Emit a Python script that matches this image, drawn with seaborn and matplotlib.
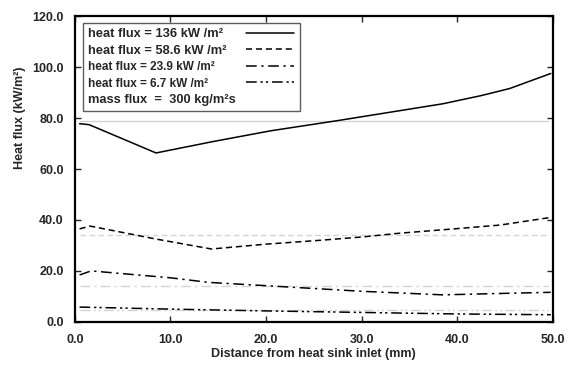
import matplotlib
matplotlib.use("Agg")
import matplotlib.pyplot as plt
import seaborn as sns
import pandas as pd
from matplotlib.lines import Line2D

# ---- data ----
x_136 = [0.5, 1.5, 8.5, 14.5, 20.5, 27.5, 34.0, 38.5, 42.5, 45.5, 49.8]
y_136 = [77.8, 77.4, 66.3, 70.8, 75.0, 79.0, 82.9, 85.6, 88.8, 91.6, 97.5]

x_586 = [0.5, 1.6, 8.5, 14.3, 20.0, 25.6, 30.0, 34.0, 40.0, 44.5, 49.8]
y_586 = [36.5, 37.6, 32.5, 28.6, 30.5, 32.0, 33.3, 34.8, 36.6, 38.0, 41.0]

x_239 = [0.5, 1.7, 10.0, 14.0, 20.0, 30.0, 38.5, 44.0, 49.8]
y_239 = [18.4, 20.0, 17.3, 15.5, 14.2, 12.0, 10.6, 11.1, 11.6]

x_67 = [0.5, 10.0, 20.0, 30.0, 40.0, 49.8]
y_67 = [5.8, 5.0, 4.3, 3.7, 3.1, 2.8]

ref_x = [0.5, 49.5]
ref_values = [79.0, 34.1, 14.0, 4.5]

labels = ["heat flux = 136 kW /m\u00b2", "heat flux = 58.6 kW /m\u00b2",
          "heat flux = 23.9 kW /m\u00b2", "heat flux = 6.7 kW /m\u00b2"]
extra_label = "mass flux  =  300 kg/m\u00b2s"
xlabel = "Distance from heat sink inlet (mm)"
ylabel = "Heat flux (kW/m\u00b2)"
xticks = [0, 10, 20, 30, 40, 50]
yticks = [0, 20, 40, 60, 80, 100, 120]

sns.set_style("white")
plt.rcParams['font.family'] = ['Liberation Sans', 'DejaVu Sans']
plt.rcParams['font.weight'] = 'bold'

fig = plt.figure(figsize=(5.71, 3.67), dpi=100)
ax = fig.add_axes([0.131, 0.123, 0.837, 0.833])

styles = ['-', (0, (4, 2.5)), (0, (7, 3, 1.5, 3)), (0, (7, 2.5, 1.5, 2, 1.5, 2.5))]
series = [(x_136, y_136), (x_586, y_586), (x_239, y_239), (x_67, y_67)]

# gray reference lines
for v, ls in zip(ref_values, styles):
    sns.lineplot(x=ref_x, y=[v, v], ax=ax, color='#d3d3d3', lw=1.0,
                 linestyle=ls, legend=False)

handles = []
for (xs, ys), ls, lab in zip(series, styles, labels):
    sns.lineplot(x=xs, y=ys, ax=ax, color='black', lw=1.1, linestyle=ls,
                 legend=False)
    handles.append(Line2D([], [], color='black', lw=1.1, linestyle=ls, label=lab))
handles.append(Line2D([], [], color='none', lw=0, label=extra_label))

ax.set_xlim(0, 50)
ax.set_ylim(0, 120)
ax.set_xticks(xticks)
ax.set_yticks(yticks)
ax.set_xticklabels([f"{t:.1f}" for t in xticks], fontsize=9, fontweight='bold')
ax.set_yticklabels([f"{t:.1f}" for t in yticks], fontsize=9, fontweight='bold')
ax.tick_params(direction='in', length=4, width=1, top=True, right=True,
               bottom=True, left=True)
ax.tick_params(axis='y', pad=8)
ax.tick_params(axis='x', pad=9)
for s in ax.spines.values():
    s.set_visible(True)
    s.set_linewidth(1.6)
    s.set_color('black')

ax.set_xlabel(xlabel, fontsize=9, fontweight='bold', labelpad=1)
ax.set_ylabel(ylabel, fontsize=9, fontweight='bold')
ax.yaxis.set_label_coords(-0.102, 0.668)

leg = ax.legend(handles=handles, loc='upper left', bbox_to_anchor=(0.017, 0.978),
                markerfirst=False, frameon=True, fancybox=False, fontsize=9.3,
                handlelength=3.7, labelspacing=0.34, borderpad=0.42,
                handletextpad=0.8, borderaxespad=0)
leg.get_frame().set_edgecolor('#333333')
leg.get_frame().set_linewidth(1.0)
for i, t in enumerate(leg.get_texts()):
    t.set_fontweight('bold')
    if i in (2, 3):
        t.set_fontsize(8.5)

# left-align legend labels while keeping the line samples right-aligned
fig.canvas.draw()
r = fig.canvas.get_renderer()
col = leg._legend_handle_box.get_children()[0]
items = col.get_children()
W = max(it.get_bbox(r).width for it in items)
for it in items:
    it.mode = 'expand'
    it.width = W
col.align = 'left'

fig.savefig("out.png", dpi=100)
